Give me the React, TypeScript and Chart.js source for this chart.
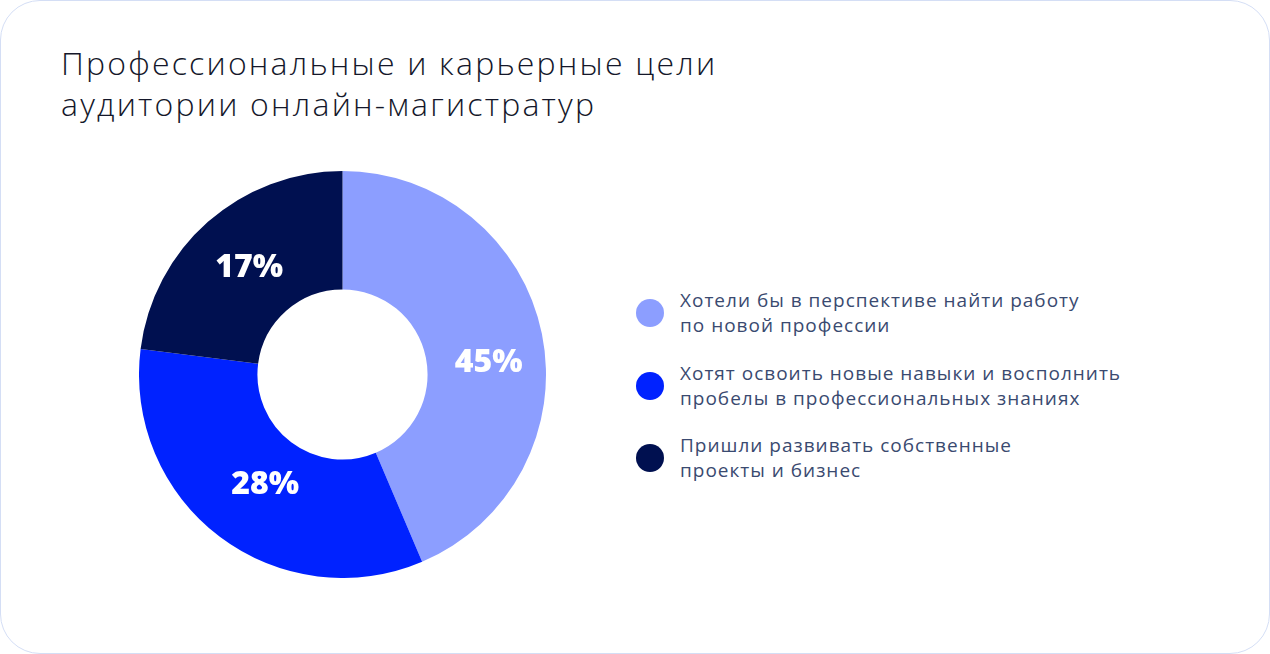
import React, { useEffect, useRef } from "react";
import { Chart, registerables } from "chart.js";

Chart.register(...registerables);

const TITLE_LINES = ["Профессиональные и карьерные цели", "аудитории онлайн-магистратур"];
const CATEGORIES = [
  ["Хотели бы в перспективе найти работу", "по новой профессии"],
  ["Хотят освоить новые навыки и восполнить", "пробелы в профессиональных знаниях"],
  ["Пришли развивать собственные", "проекты и бизнес"],
];
// slice sizes as drawn in the reference (share of the ring)
const SLICE_VALUES = [43.6, 33.4, 23.0];
// percentage labels printed on the slices
const SLICE_LABELS = ["45%", "28%", "17%"];
const COLORS = ["#8c9eff", "#0022ff", "#001050"];

// small per-label placement nudges relative to each arc's middle (style, not data)
const LABEL_NUDGE = [
  { angle: 6.6, radius: 2.5 },
  { angle: -1.8, radius: -10.5 },
  { angle: 0.4, radius: -2 },
];

const labelPlugin = {
  id: "sliceLabels",
  afterDatasetsDraw(chart: any) {
    const ctx = chart.ctx;
    const meta = chart.getDatasetMeta(0);
    ctx.save();
    ctx.fillStyle = "#ffffff";
    ctx.font = "800 32px 'Open Sans'";
    ctx.textAlign = "center";
    ctx.textBaseline = "middle";
    meta.data.forEach((arc: any, i: number) => {
      const { x, y, startAngle, endAngle, innerRadius, outerRadius } = arc.getProps(
        ["x", "y", "startAngle", "endAngle", "innerRadius", "outerRadius"],
        true
      );
      const n = LABEL_NUDGE[i] || { angle: 0, radius: 0 };
      const a = (startAngle + endAngle) / 2 + (n.angle * Math.PI) / 180;
      const r = (innerRadius + outerRadius) / 2 + n.radius;
      ctx.fillText(SLICE_LABELS[i], x + Math.cos(a) * r, y + Math.sin(a) * r + 1);
    });
    ctx.restore();
  },
};

export default function App() {
  const ref = useRef<HTMLCanvasElement>(null);
  useEffect(() => {
    document.body.style.margin = "0";
    const chart = new Chart(ref.current!, {
      type: "doughnut",
      data: {
        labels: CATEGORIES.map((c) => c.join(" ")),
        datasets: [
          {
            data: SLICE_VALUES,
            backgroundColor: COLORS,
            borderWidth: 0,
          },
        ],
      },
      options: {
        animation: false,
        responsive: false,
        maintainAspectRatio: false,
        cutout: "41.8%",
        layout: { padding: 0 },
        plugins: { legend: { display: false }, tooltip: { enabled: false } },
      },
      plugins: [labelPlugin],
    });
    return () => chart.destroy();
  }, []);

  return (
    <div
      style={{
        position: "fixed",
        left: 0,
        top: 0,
        width: 1270,
        height: 654,
        boxSizing: "border-box",
        border: "1.5px solid #d4def5",
        borderRadius: 40,
        background: "#ffffff",
        overflow: "hidden",
      }}
    >
      <div
        style={{
          position: "absolute",
          left: 60,
          top: 41,
          fontFamily: "'Open Sans'",
          fontWeight: 300,
          fontSize: 32,
          letterSpacing: "2.2px",
          lineHeight: "41px",
          color: "#14172a",
          whiteSpace: "nowrap",
        }}
      >
        {TITLE_LINES.map((l, i) => (
          <div key={i}>{l}</div>
        ))}
      </div>
      <canvas
        ref={ref}
        width={407}
        height={407}
        style={{ position: "absolute", left: 138, top: 170, width: 407, height: 407 }}
      />
      <div style={{ position: "absolute", left: 635, top: 287 }}>
        {CATEGORIES.map((lines, i) => (
          <div
            key={i}
            style={{ display: "flex", alignItems: "center", marginBottom: 22.5, height: 50 }}
          >
            <div
              style={{
                width: 28,
                height: 28,
                borderRadius: "50%",
                background: COLORS[i],
                marginRight: 16,
                flexShrink: 0,
              }}
            />
            <div
              style={{
                fontFamily: "'Open Sans'",
                fontSize: 19,
                letterSpacing: "1px",
                lineHeight: "25px",
                color: "#3a4a70",
                whiteSpace: "nowrap",
              }}
            >
              {lines.map((l, j) => (
                <div key={j}>{l}</div>
              ))}
            </div>
          </div>
        ))}
      </div>
    </div>
  );
}
